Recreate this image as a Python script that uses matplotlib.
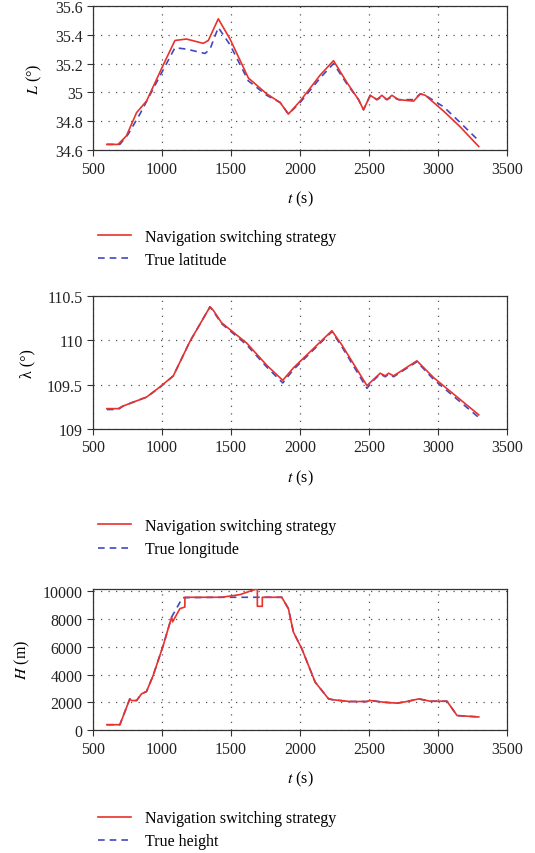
import numpy as np
import matplotlib
matplotlib.use("Agg")
import matplotlib.pyplot as plt
from matplotlib.ticker import FuncFormatter

plt.rcParams['font.family'] = ['Liberation Serif', 'DejaVu Serif']
plt.rcParams['mathtext.fontset'] = 'stix'
plt.rcParams['font.size'] = 11.5

# latitude
t_lat_nav = [600, 681, 742, 815, 887, 1008, 1093, 1177, 1298, 1335, 1407, 1492, 1625, 1758, 1855, 1915,
             2000, 2145, 2242, 2338, 2423, 2459, 2508, 2556, 2592, 2629, 2665, 2713, 2822, 2871, 2907,
             3040, 3161, 3294]
lat_nav = [34.64, 34.64, 34.70, 34.86, 34.94, 35.19, 35.36, 35.37, 35.34, 35.36, 35.51, 35.37, 35.10, 34.99,
           34.93, 34.85, 34.94, 35.12, 35.22, 35.07, 34.95, 34.88, 34.98, 34.95, 34.98, 34.95, 34.98, 34.95,
           34.94, 34.99, 34.98, 34.87, 34.76, 34.625]
t_lat_true = [600, 694, 754, 839, 960, 1093, 1177, 1311, 1347, 1407, 1492, 1625, 1758, 1855, 1915,
              2000, 2145, 2242, 2338, 2423, 2459, 2508, 2556, 2592, 2629, 2665, 2713, 2822, 2871, 2907,
              3040, 3161, 3294]
lat_true = [34.64, 34.64, 34.71, 34.85, 35.07, 35.31, 35.30, 35.27, 35.30, 35.45, 35.33, 35.08, 34.98,
            34.93, 34.85, 34.93, 35.10, 35.20, 35.06, 34.95, 34.88, 34.98, 34.95, 34.97, 34.95, 34.97, 34.95,
            34.95, 34.99, 34.98, 34.90, 34.79, 34.665]

# longitude
t_lon = [600, 681, 718, 887, 984, 1081, 1202, 1347, 1371, 1431, 1613, 1758, 1874, 1951, 2230, 2302,
         2484, 2532, 2580, 2617, 2641, 2677, 2846, 2967, 3294]
lon_nav = [109.23, 109.23, 109.26, 109.36, 109.475, 109.60, 109.99, 110.38, 110.34, 110.20, 109.97, 109.72,
           109.55, 109.69, 110.11, 109.95, 109.49, 109.56, 109.63, 109.60, 109.63, 109.60, 109.77, 109.58,
           109.16]
lon_true = [109.22, 109.22, 109.26, 109.36, 109.47, 109.60, 109.99, 110.38, 110.33, 110.19, 109.95, 109.70,
            109.52, 109.67, 110.10, 109.93, 109.46, 109.55, 109.62, 109.59, 109.62, 109.59, 109.76, 109.56,
            109.13]

# height
t_h_nav = [600, 694, 766, 778, 815, 851, 887, 935, 1008, 1069, 1076, 1129, 1165, 1165, 1431, 1564, 1690,
           1690, 1726, 1726, 1867, 1915, 1951, 2012, 2109, 2206, 2242, 2362, 2484, 2508, 2605, 2701, 2774,
           2859, 2943, 3064, 3137, 3294]
h_nav = [400, 400, 2260, 2140, 2140, 2620, 2790, 3940, 6100, 8150, 7800, 8750, 8870, 9570, 9570, 9760, 10190,
         8920, 8920, 9570, 9570, 8750, 7070, 5870, 3460, 2260, 2190, 2070, 2070, 2140, 2020, 1950, 2070,
         2260, 2090, 2090, 1060, 960]
t_h_true = [600, 694, 766, 778, 815, 851, 887, 935, 1008, 1069, 1148, 1431, 1690, 1867, 1915, 1951, 2012,
            2109, 2206, 2242, 2362, 2484, 2508, 2605, 2701, 2774, 2859, 2943, 3064, 3137, 3294]
h_true = [400, 400, 2260, 2140, 2140, 2620, 2790, 3940, 6100, 8150, 9540, 9570, 9570, 9570, 8750, 7070, 5870,
          3460, 2260, 2190, 2070, 2070, 2140, 2020, 1950, 2070, 2260, 2090, 2090, 1060, 960]

red = '#e8322b'
blue = '#4049c0'

fig = plt.figure(figsize=(5.35, 8.54), dpi=100)
ax1 = fig.add_axes([0.174, 0.823, 0.774, 0.169])
ax2 = fig.add_axes([0.174, 0.4965, 0.774, 0.1555])
ax3 = fig.add_axes([0.174, 0.1437, 0.774, 0.166])

panels = [
    (ax1, t_lat_nav, lat_nav, t_lat_true, lat_true, 'True latitude', r'$L$ (°)', (34.6, 35.6), np.arange(34.6, 35.61, 0.2)),
    (ax2, t_lon, lon_nav, t_lon, lon_true, 'True longitude', 'λ (°)', (109, 110.5), [109, 109.5, 110, 110.5]),
    (ax3, t_h_nav, h_nav, t_h_true, h_true, 'True height', r'$H$ (m)', (0, 10200), np.arange(0, 10001, 2000)),
]
legend_y = [0.748, 0.409, 0.067]

for (ax, tn, yn, tt, yt, lab, ylab, ylim, yticks), ly in zip(panels, legend_y):
    l1, = ax.plot(tn, yn, color=red, lw=1.2, label='Navigation switching strategy', zorder=3)
    l2, = ax.plot(tt, yt, color=blue, lw=1.2, ls=(0, (4, 3)), label=lab, zorder=2)
    ax.set_xlim(500, 3500)
    ax.set_ylim(*ylim)
    ax.set_xticks([500, 1000, 1500, 2000, 2500, 3000, 3500])
    ax.set_yticks(yticks)
    ax.yaxis.set_major_formatter(FuncFormatter(lambda v, p: '%g' % round(v, 2)))
    ax.grid(True, color='#555555', ls=(0, (1, 5)), lw=0.9)
    ax.tick_params(direction='out', length=4, width=0.8, color='#333333', labelcolor='#222222')
    for s in ax.spines.values():
        s.set_color('#333333')
        s.set_linewidth(0.9)
    ax.set_xlabel(r'$t$ (s)', labelpad=9)
    ax.set_ylabel(ylab, labelpad=8)
    fig.legend(handles=[l1, l2], loc='upper left', bbox_to_anchor=(0.157, ly),
               bbox_transform=fig.transFigure, frameon=False, handlelength=2.05,
               handletextpad=0.85, labelspacing=0.45)

fig.savefig('out.png', dpi=100)
